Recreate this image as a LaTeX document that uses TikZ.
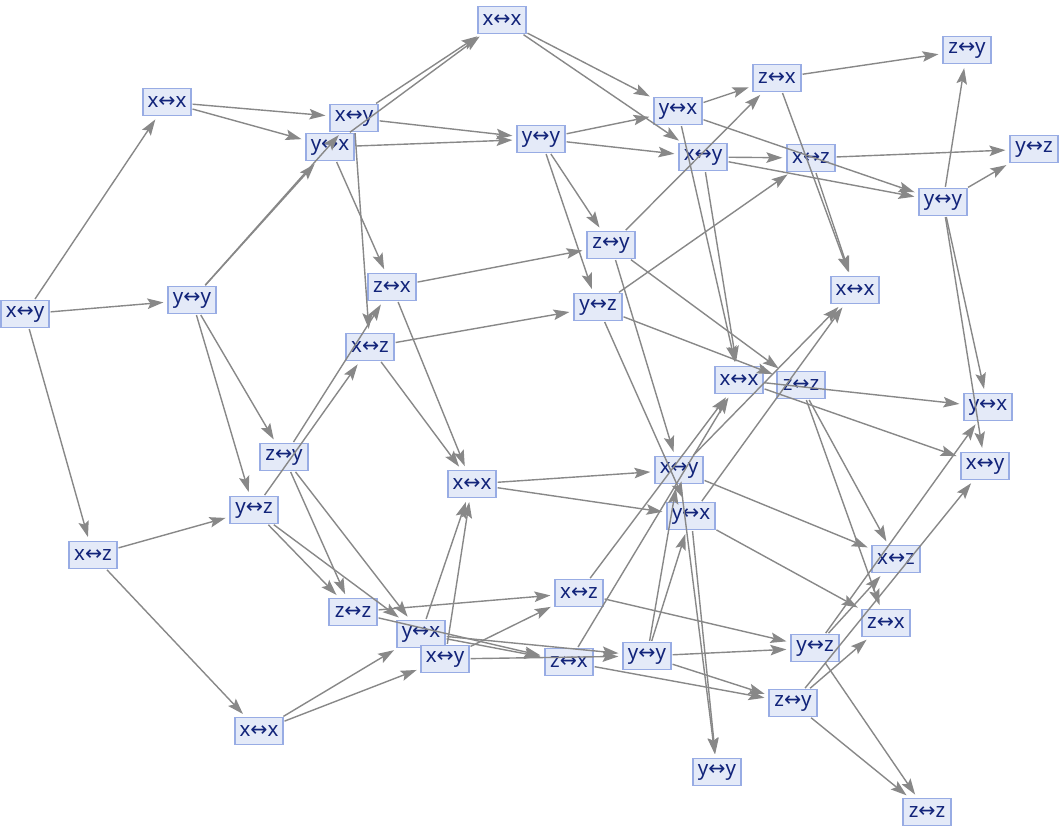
\documentclass[tikz,border=0pt]{standalone}
\usepackage{fontspec}
\setmainfont{Noto Sans}
\newfontfamily\dejavu{DejaVu Sans}
\usetikzlibrary{arrows.meta}
\definecolor{boxfill}{RGB}{228,234,248}
\definecolor{boxline}{RGB}{152,172,228}
\definecolor{txtc}{RGB}{18,36,122}
\definecolor{edgec}{RGB}{136,136,136}
\newcommand{\lrar}{{\dejavu↔}}
\newcommand{\lbl}[2]{#1\lrar#2}
\tikzset{
 vbox/.style={draw=boxline, fill=boxfill, line width=1.2pt, minimum width=48pt, minimum height=27pt, inner sep=0pt, text=txtc, font=\fontsize{20.5}{20.5}\selectfont},
 conn/.style={draw=edgec, line width=1.4pt, -{Stealth[length=16pt,width=10.5pt,inset=3pt]}, shorten >=4pt, shorten <=1pt}
}
\begin{document}
\begin{tikzpicture}[x=1pt,y=-1pt]
\useasboundingbox (0,0) rectangle (1062,834);
\node[vbox] (A1) at (25,314) {\lbl xy};
\node[vbox] (B1) at (167,102) {\lbl xx};
\node[vbox] (B2) at (192,300) {\lbl yy};
\node[vbox] (B3) at (93,555) {\lbl xz};
\node[vbox] (C1) at (354,118) {\lbl xy};
\node[vbox] (C2) at (330,147) {\lbl yx};
\node[vbox] (C3) at (392,287) {\lbl zx};
\node[vbox] (C4) at (370,347) {\lbl xz};
\node[vbox] (C5) at (284,457) {\lbl zy};
\node[vbox] (C6) at (254,510) {\lbl yz};
\node[vbox] (C7) at (259,731) {\lbl xx};
\node[vbox] (D1) at (502,20) {\lbl xx};
\node[vbox] (D2) at (541,139) {\lbl yy};
\node[vbox] (D3) at (611,245) {\lbl zy};
\node[vbox] (D4) at (598,307) {\lbl yz};
\node[vbox] (D5) at (472,484) {\lbl xx};
\node[vbox] (D6) at (353,612) {\lbl zz};
\node[vbox] (D7) at (421,634) {\lbl yx};
\node[vbox] (D8) at (445,659) {\lbl xy};
\node[vbox] (D9) at (579,593) {\lbl xz};
\node[vbox] (D10) at (569,662) {\lbl zx};
\node[vbox] (E1) at (678,111) {\lbl yx};
\node[vbox] (E2) at (777,78) {\lbl zx};
\node[vbox] (E3) at (703,157) {\lbl xy};
\node[vbox] (E4) at (811,158) {\lbl xz};
\node[vbox] (E5) at (855,290) {\lbl xx};
\node[vbox] (E6) at (739,380) {\lbl xx};
\node[vbox] (E7) at (801,385) {\lbl zz};
\node[vbox] (E8) at (679,470) {\lbl xy};
\node[vbox] (E9) at (691,516) {\lbl yx};
\node[vbox] (E10) at (647,656) {\lbl yy};
\node[vbox] (E11) at (717,772) {\lbl yy};
\node[vbox] (E12) at (815,648) {\lbl yz};
\node[vbox] (E13) at (793,703) {\lbl zy};
\node[vbox] (F1) at (967,50) {\lbl zy};
\node[vbox] (F2) at (1034,149) {\lbl yz};
\node[vbox] (F3) at (943,202) {\lbl yy};
\node[vbox] (F4) at (988,407) {\lbl yx};
\node[vbox] (F5) at (985,466) {\lbl xy};
\node[vbox] (F6) at (896,559) {\lbl xz};
\node[vbox] (F7) at (886,623) {\lbl zx};
\node[vbox] (F8) at (927,812) {\lbl zz};
\foreach \a/\b in {A1/B1,A1/B2,A1/B3,B1/C1,B1/C2,B2/C1,B2/C2,B2/C5,B2/C6,B3/C6,B3/C7,
 C1/D1,C1/D2,C1/C4,C2/D1,C2/D2,C2/C3,C3/D3,C3/D5,C4/D4,C4/D5,C5/C3,C5/D6,C5/D7,
 C6/C4,C6/D6,C6/D7,C7/D7,C7/D8,D1/E1,D1/E3,D2/E1,D2/E3,D2/D3,D2/D4,D3/E2,D3/E7,D3/E8,
 D4/E4,D4/E7,D4/E9,D5/E8,D5/E9,D6/D9,D6/D10,D7/D5,D7/D10,D7/E10,D8/D5,D8/D9,D8/E10,
 D9/E6,D9/E12,D10/E6,D10/E13,E1/E2,E1/F3,E1/E6,E2/F1,E2/E5,E3/E4,E3/F3,E3/E6,E4/F2,E4/E5,
 E6/F4,E6/F5,E7/F6,E7/F7,E8/E5,E8/E11,E8/F6,E9/E5,E9/E11,E9/F7,E10/E8,E10/E9,E10/E12,E10/E13,
 E12/F4,E12/F6,E12/F8,E13/F5,E13/F7,E13/F8,F3/F1,F3/F2,F3/F4,F3/F5}
 \draw[conn] (\a) -- (\b);
\end{tikzpicture}
\end{document}
